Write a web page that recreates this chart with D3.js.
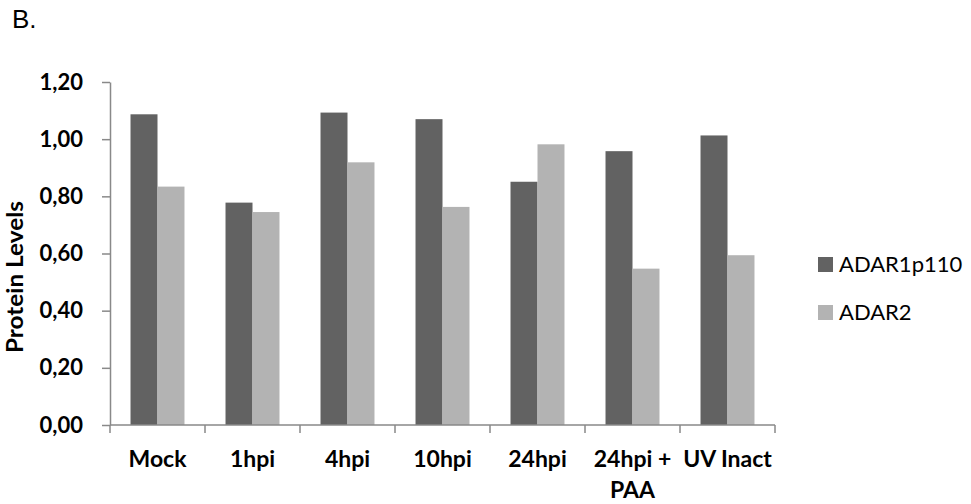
<!DOCTYPE html>
<html>
  <head>
    <meta charset="utf-8">
    <title>Protein levels</title>
    <script src="https://cdn.jsdelivr.net/npm/d3@7"></script>
    <style>
      body { margin: 0; background: #fff; }
      #chart { display: block; }
      .axis path, .axis line { stroke: #898989; stroke-width: 1.5; }
      .axis text { font-family: Lato, "Open Sans", sans-serif; font-weight: bold; font-size: 22px; fill: #000; }
      .axis .xlabel { font-size: 23px; }
      .legend text { font-family: Lato, "Open Sans", sans-serif; font-size: 22px; fill: #000; }
    </style>
  </head>

  <body>
    <svg id="chart" width="971" height="504"></svg>

    <script>
      // data
      categories = ["Mock", "1hpi", "4hpi", "10hpi", "24hpi", "24hpi + PAA", "UV Inact"];
      series = ["ADAR1p110", "ADAR2"];
      adar1 = [1.087, 0.778, 1.093, 1.070, 0.851, 0.958, 1.013];
      adar2 = [0.834, 0.745, 0.919, 0.763, 0.982, 0.547, 0.594];
      yTicks = [0, 0.2, 0.4, 0.6, 0.8, 1.0, 1.2];
      colours = ["#626262", "#b3b3b3"];

      chart = d3.select("#chart");
      margin = { top: 82, right: 196, bottom: 79, left: 110 };
      width = 971;
      height = 504;

      tableData = categories.map((c, i) => ({ category: c, values: [adar1[i], adar2[i]] }));

      // scales
      x = d3.scaleBand()
        .domain(categories)
        .range([margin.left, width - margin.right]);
      inner = d3.scaleBand()
        .domain(series)
        .range([0, x.bandwidth()])
        .paddingInner(0)
        .paddingOuter(0.76);
      y = d3.scaleLinear()
        .domain([0, 1.2])
        .range([height - margin.bottom, margin.top]);

      // panel letter
      chart.append("text")
        .attr("x", 12)
        .attr("y", 28)
        .style("font-family", "Liberation Sans, Arial, sans-serif")
        .style("font-size", "26px")
        .text("B.");

      // bars
      groups = chart.append("g")
        .selectAll("g")
        .data(tableData)
        .join("g")
        .attr("transform", d => "translate(" + x(d.category) + ",0)");
      groups.selectAll("rect")
        .data(d => d.values.map((v, j) => ({ key: series[j], value: v, j: j })))
        .join("rect")
        .attr("x", d => inner(d.key))
        .attr("y", d => y(d.value))
        .attr("width", inner.bandwidth())
        .attr("height", d => y(0) - y(d.value))
        .attr("fill", d => colours[d.j]);

      // y axis
      yAxis = d3.axisLeft(y)
        .tickValues(yTicks)
        .tickFormat(d => d3.format(".2f")(d).replace(".", ","))
        .tickSize(8)
        .tickSizeOuter(0)
        .tickPadding(19);
      chart.append("g")
        .attr("class", "axis")
        .attr("transform", "translate(" + margin.left + ",0)")
        .call(yAxis);

      // x axis with ticks between categories
      xAxisGroup = chart.append("g")
        .attr("class", "axis")
        .attr("transform", "translate(0," + y(0) + ")");
      xAxisGroup.append("line")
        .attr("x1", margin.left)
        .attr("x2", width - margin.right);
      boundaries = categories.map(c => x(c)).concat([x(categories[categories.length - 1]) + x.bandwidth()]);
      xAxisGroup.selectAll(".tick")
        .data(boundaries)
        .join("line")
        .attr("x1", d => d)
        .attr("x2", d => d)
        .attr("y1", 0)
        .attr("y2", 8);
      labelLines = { "24hpi + PAA": ["24hpi +", "PAA"] };
      xAxisGroup.selectAll(".xlabel")
        .data(categories)
        .join("text")
        .attr("class", "xlabel")
        .attr("text-anchor", "middle")
        .attr("x", d => x(d) + x.bandwidth() / 2)
        .attr("y", 42)
        .each(function (d) {
          let lines = labelLines[d] || [d];
          d3.select(this).selectAll("tspan")
            .data(lines)
            .join("tspan")
            .attr("x", x(d) + x.bandwidth() / 2)
            .attr("dy", (l, k) => k == 0 ? 0 : 31)
            .text(l => l);
        });

      // y label
      chart.append("text")
        .attr("transform", "translate(23,277) rotate(-90)")
        .attr("text-anchor", "middle")
        .attr("textLength", 152)
        .attr("lengthAdjust", "spacingAndGlyphs")
        .style("font-family", "Lato, 'Open Sans', sans-serif")
        .style("font-weight", "bold")
        .style("font-size", "22px")
        .text("Protein Levels");

      // legend
      legend = chart.append("g")
        .attr("class", "legend")
        .selectAll("g")
        .data(series)
        .join("g")
        .attr("transform", (d, i) => "translate(818," + (257 + i * 48) + ")");
      legend.append("rect")
        .attr("width", 15)
        .attr("height", 15)
        .attr("fill", (d, i) => colours[i]);
      legend.append("text")
        .attr("x", 21)
        .attr("y", 15)
        .text(d => d);
    </script>
  </body>
</html>
